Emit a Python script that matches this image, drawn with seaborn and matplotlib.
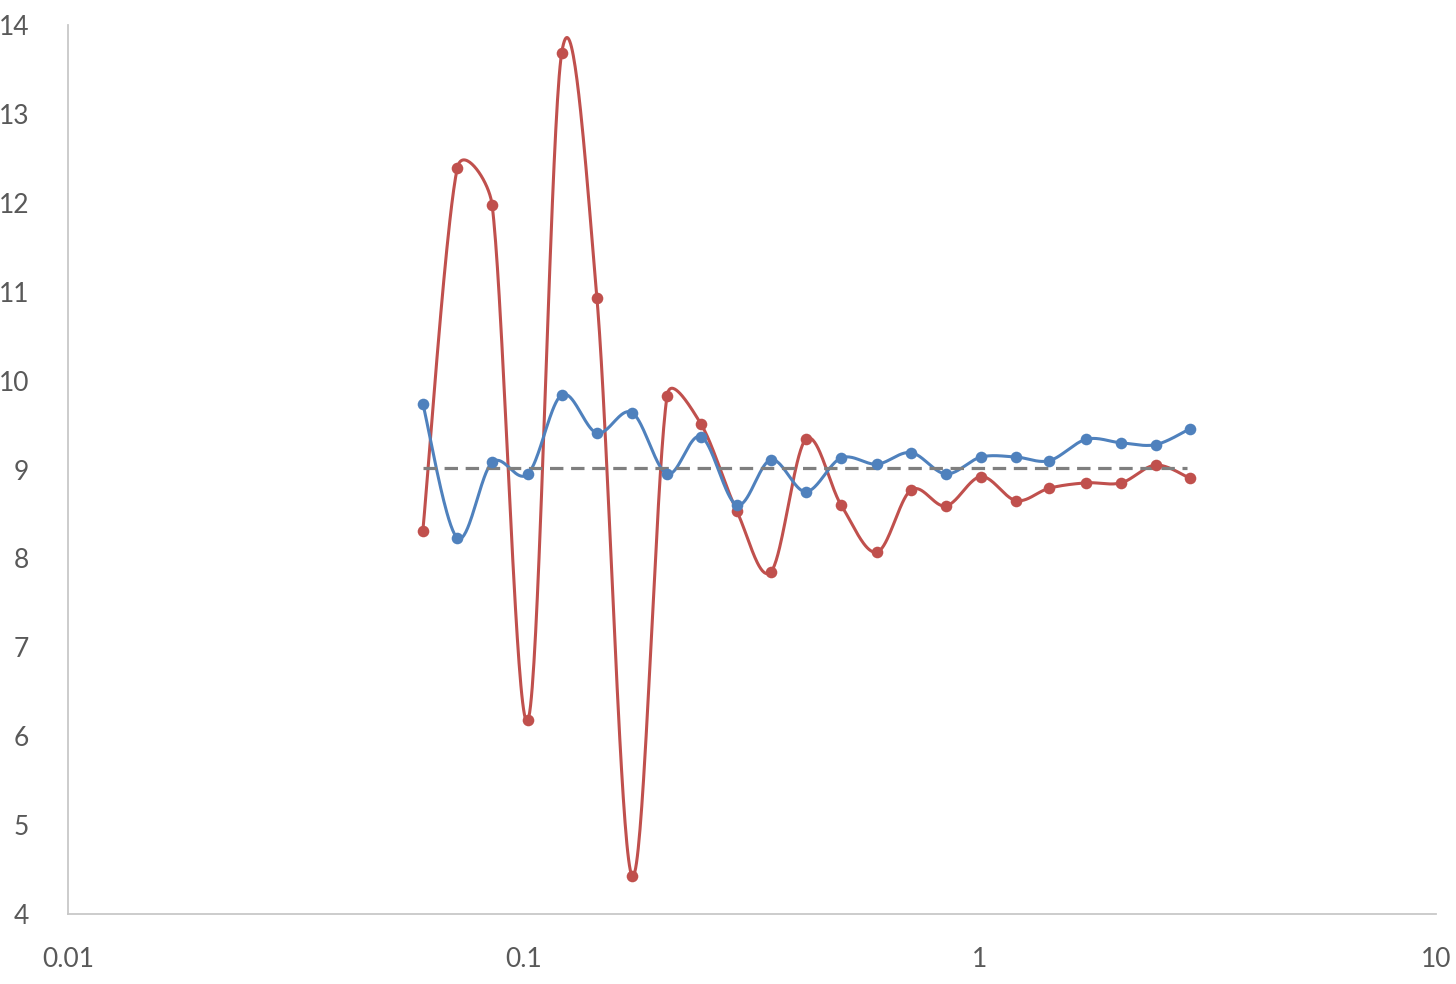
import numpy as np
import pandas as pd
import matplotlib
matplotlib.use("Agg")
import matplotlib.pyplot as plt
import seaborn as sns

x_vals = [0.060, 0.0714, 0.0851, 0.102, 0.121, 0.1445, 0.1726, 0.206, 0.2445, 0.293,
          0.348, 0.415, 0.496, 0.594, 0.706, 0.842, 1.005, 1.20, 1.42, 1.71,
          2.04, 2.43, 2.89]
red_vals = [8.31, 12.39, 11.98, 6.18, 13.69, 10.93, 4.43, 9.83, 9.51, 8.53,
            7.85, 9.34, 8.60, 8.07, 8.77, 8.59, 8.92, 8.65, 8.79, 8.85,
            8.85, 9.05, 8.90]
blue_vals = [9.74, 8.23, 9.08, 8.95, 9.84, 9.41, 9.64, 8.95, 9.37, 8.60,
             9.11, 8.75, 9.13, 9.06, 9.19, 8.95, 9.14, 9.14, 9.10, 9.34,
             9.30, 9.28, 9.46]
ref_level = 9.02
ref_x = [0.060, 2.85]
x_ticks = [0.01, 0.1, 1, 10]
x_tick_labels = ["0.01", "0.1", "1", "10"]
y_ticks = [4, 5, 6, 7, 8, 9, 10, 11, 12, 13, 14]

RED = "#C0504D"
BLUE = "#4F81BD"
GRAY = "#7F7F7F"
TXT = "#595959"

# approximate pixel scale of the plot area (per decade in x, per unit in y)
SX, SY = 456.0, 88.9


def smooth(xs, ys, n=40):
    """Excel-like smoothed line: Bezier with 1/6 tangents, limited to half the segment."""
    X = np.log10(np.asarray(xs, float)) * SX
    Y = np.asarray(ys, float) * SY
    P = np.column_stack([X, Y])
    m = len(P)
    out = []
    t = np.linspace(0, 1, n, endpoint=False)[:, None]
    for i in range(m - 1):
        p1, p2 = P[i], P[i + 1]
        p0 = P[i - 1] if i > 0 else p1
        p3 = P[i + 2] if i + 2 < m else p2
        seg_len = np.linalg.norm(p2 - p1)
        v1 = (p2 - p0) / 6.0
        v2 = (p3 - p1) / 6.0
        for v in (v1, v2):
            L = np.linalg.norm(v)
            if L > seg_len / 2 and L > 0:
                v *= (seg_len / 2) / L
        c1 = p1 + v1
        c2 = p2 - v2
        seg = ((1 - t) ** 3) * p1 + 3 * ((1 - t) ** 2) * t * c1 + 3 * (1 - t) * t ** 2 * c2 + t ** 3 * p2
        out.append(seg)
    out.append(P[-1][None, :])
    S = np.vstack(out)
    return 10 ** (S[:, 0] / SX), S[:, 1] / SY


sns.set_theme(style="white")
plt.rcParams["font.family"] = ["Lato", "DejaVu Sans"]

fig = plt.figure(figsize=(14.56, 9.84), dpi=100)
ax = fig.add_axes([68 / 1456, 70 / 984, (1436 - 68) / 1456, (914 - 25) / 984])

df = pd.DataFrame({"x": x_vals, "red": red_vals, "blue": blue_vals})

for col, color in [("red", RED), ("blue", BLUE)]:
    sx, sy = smooth(df["x"], df[col])
    sns.lineplot(x=sx, y=sy, ax=ax, color=color, linewidth=2.2, sort=False, estimator=None)
    sns.scatterplot(x=df["x"], y=df[col], ax=ax, color=color, s=70, edgecolor=color,
                    linewidth=0, zorder=5)

sns.lineplot(x=ref_x, y=[ref_level, ref_level], ax=ax, color=GRAY,
             linewidth=2.3, estimator=None)
ax.lines[-1].set_linestyle((0, (4.2, 2.4)))

ax.set_xscale("log")
ax.set_xlim(0.01, 10)
ax.set_ylim(4, 14)
ax.set_xticks(x_ticks)
ax.set_xticklabels(x_tick_labels)
ax.set_yticks(y_ticks)
ax.xaxis.set_minor_locator(matplotlib.ticker.NullLocator())
ax.tick_params(axis="both", length=0, labelsize=19, labelcolor=TXT)
ax.tick_params(axis="x", pad=24)
ax.tick_params(axis="y", pad=28)
ax.set_xlabel("")
ax.set_ylabel("")
for s in ["top", "right"]:
    ax.spines[s].set_visible(False)
for s in ["left", "bottom"]:
    ax.spines[s].set_color("#C8C8C8")
    ax.spines[s].set_linewidth(1.3)
ax.grid(False)

fig.savefig("out.png", dpi=100)
